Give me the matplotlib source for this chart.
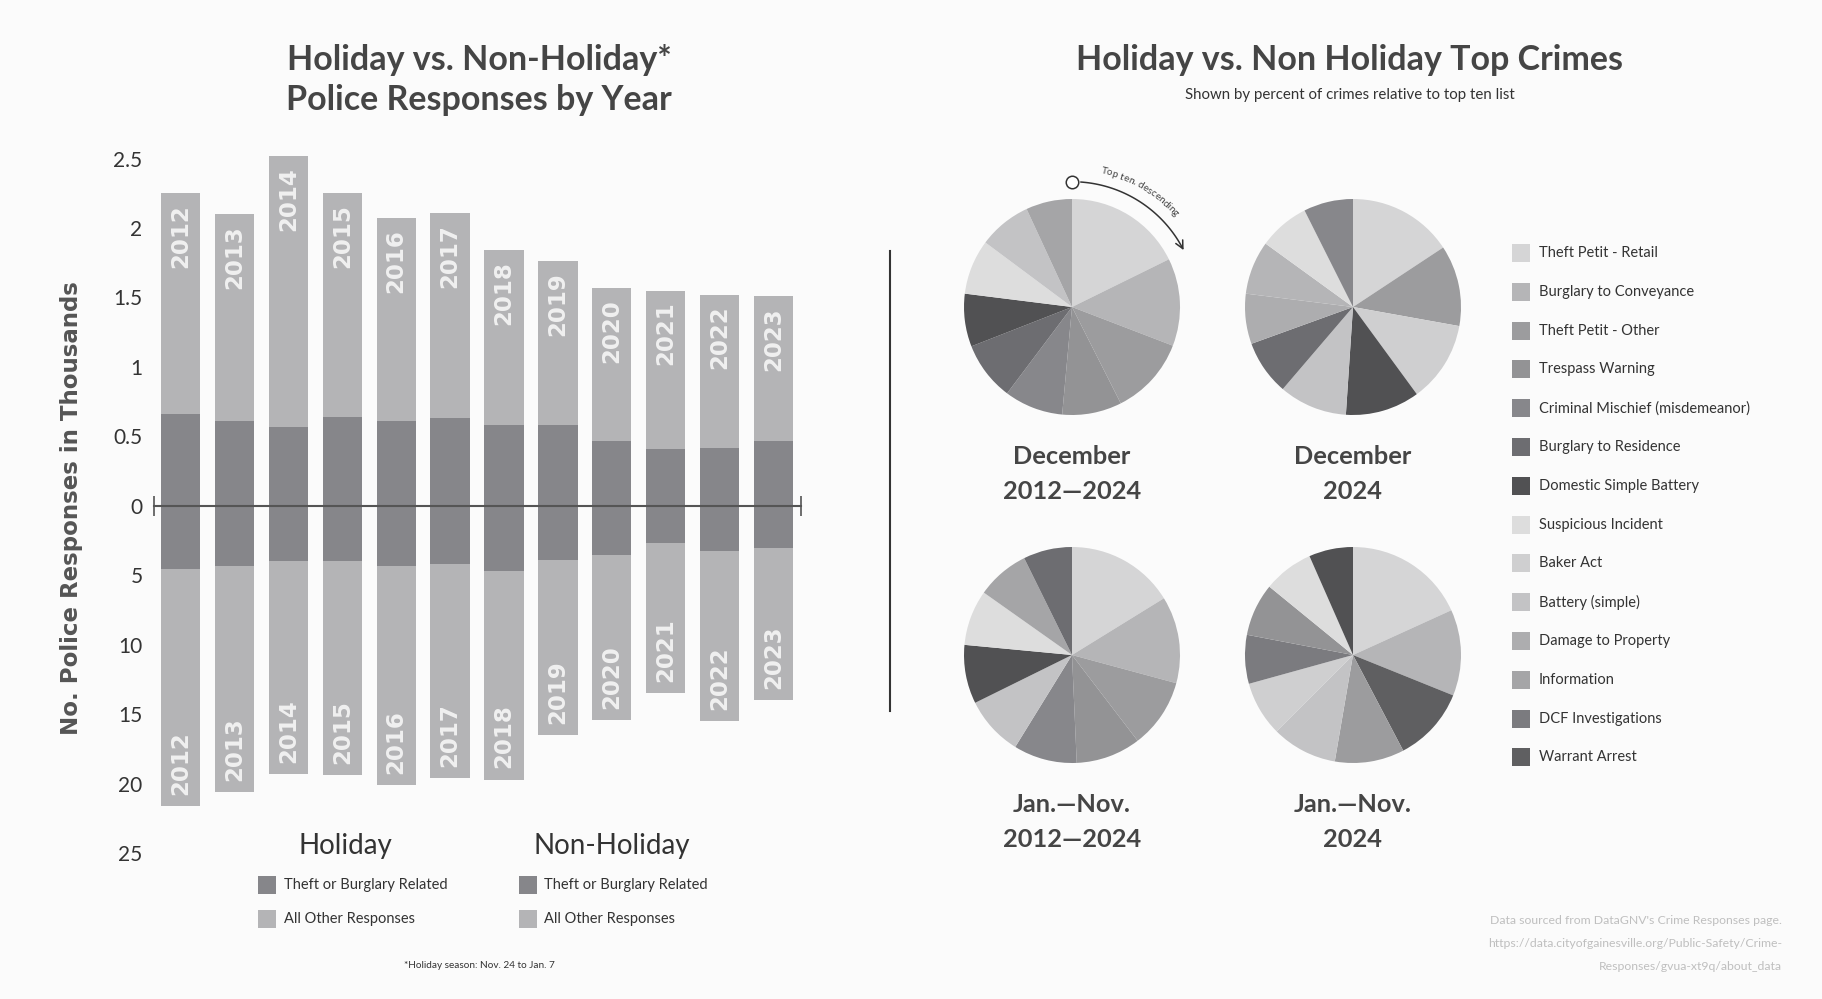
"""
Holiday vs. non-holiday police responses (Gainesville) - bar + pie panel
"""

import numpy as np
import matplotlib.pyplot as plt
from matplotlib.patches import FancyArrowPatch, Rectangle
from matplotlib.path import Path

W, H = 1822, 999
BG = '#fbfbfb'
FONT = ['Lato', 'DejaVu Sans']

# ---- bar chart data (thousands of responses) ----
years = [2012, 2013, 2014, 2015, 2016, 2017, 2018, 2019, 2020, 2021, 2022, 2023]
holiday_theft = [0.66, 0.61, 0.57, 0.64, 0.61, 0.63, 0.58, 0.58, 0.47, 0.41, 0.42, 0.47]
holiday_total = [2.25, 2.10, 2.52, 2.25, 2.07, 2.11, 1.84, 1.76, 1.57, 1.55, 1.52, 1.51]
nonholiday_theft = [4.55, 4.32, 3.96, 3.96, 4.36, 4.15, 4.68, 3.93, 3.53, 2.71, 3.24, 3.00]
nonholiday_total = [21.6, 20.6, 19.3, 19.4, 20.1, 19.6, 19.7, 16.5, 15.4, 13.5, 15.5, 14.0]

ytick_vals = [25, 20, 15, 10, 5, 0, -5, -10, -15, -20, -25]
ytick_labels = ['2.5', '2', '1.5', '1', '0.5', '0', '5', '10', '15', '20', '25']

# ---- pie chart data (percent of top ten list) ----
crimes = ['Theft Petit - Retail', 'Burglary to Conveyance', 'Theft Petit - Other',
          'Trespass Warning', 'Criminal Mischief (misdemeanor)', 'Burglary to Residence',
          'Domestic Simple Battery', 'Suspicious Incident', 'Baker Act', 'Battery (simple)',
          'Damage to Property', 'Information', 'DCF Investigations', 'Warrant Arrest']
crime_colors = ['#d5d5d6', '#b5b5b7', '#9c9c9e', '#939395', '#87878b', '#6d6d71',
                '#515153', '#dddddd', '#cfcfd0', '#c3c3c5', '#adadaf', '#a5a5a7',
                '#7b7b7f', '#5f5f61']

pie_titles = ['December\n2012\u20142024', 'December\n2024',
              'Jan.\u2014Nov.\n2012\u20142024', 'Jan.\u2014Nov.\n2024']

dec_all_crimes = ['Theft Petit - Retail', 'Burglary to Conveyance', 'Theft Petit - Other',
                  'Trespass Warning', 'Criminal Mischief (misdemeanor)', 'Burglary to Residence',
                  'Domestic Simple Battery', 'Suspicious Incident', 'Battery (simple)', 'Information']
dec_all_pct = [17.7, 13.1, 11.7, 8.9, 8.8, 8.8, 7.9, 8.2, 7.9, 6.9]

dec_2024_crimes = ['Theft Petit - Retail', 'Theft Petit - Other', 'Baker Act',
                   'Domestic Simple Battery', 'Battery (simple)', 'Burglary to Residence',
                   'Damage to Property', 'Burglary to Conveyance', 'Suspicious Incident',
                   'Criminal Mischief (misdemeanor)']
dec_2024_pct = [15.7, 12.1, 12.1, 11.1, 10.2, 8.2, 7.5, 8.0, 7.6, 7.4]

jn_all_crimes = ['Theft Petit - Retail', 'Burglary to Conveyance', 'Theft Petit - Other',
                 'Trespass Warning', 'Criminal Mischief (misdemeanor)', 'Battery (simple)',
                 'Domestic Simple Battery', 'Suspicious Incident', 'Information',
                 'Burglary to Residence']
jn_all_pct = [16.2, 13.0, 10.4, 9.7, 9.5, 8.9, 8.8, 8.3, 7.9, 7.3]

jn_2024_crimes = ['Theft Petit - Retail', 'Burglary to Conveyance', 'Warrant Arrest',
                  'Theft Petit - Other', 'Battery (simple)', 'Baker Act', 'DCF Investigations',
                  'Trespass Warning', 'Suspicious Incident', 'Domestic Simple Battery']
jn_2024_pct = [18.2, 12.9, 11.2, 10.4, 9.8, 8.2, 7.3, 7.9, 7.5, 6.6]

pie_crimes = [dec_all_crimes, dec_2024_crimes, jn_all_crimes, jn_2024_crimes]
pie_pct = [dec_all_pct, dec_2024_pct, jn_all_pct, jn_2024_pct]

DARK = '#86868a'
LIGHT = '#b4b4b6'
TITLE_C = '#454545'


def fx(px):
    return px / W


def fy(py):
    return 1 - py / H


def arc_text(ax, s, radius, start_deg, r_px, size):
    """write s clockwise along a circle around the pie centre"""
    renderer = ax.figure.canvas.get_renderer()
    ang = start_deg
    for ch in s:
        if ch == ' ':
            w = size * 0.28 * 100 / 72
        else:
            t = ax.text(0, 0, ch, fontsize=size, family=FONT)
            w = t.get_window_extent(renderer).width
            t.remove()
        dtheta = np.degrees(w / r_px)
        mid = np.radians(ang - dtheta / 2)
        ax.text(radius * np.cos(mid), radius * np.sin(mid), ch, fontsize=size,
                family=FONT, color='#444444', rotation=np.degrees(mid) - 90,
                rotation_mode='anchor', ha='center', va='center')
        ang -= dtheta


def main():
    plt.rcParams['font.family'] = FONT
    fig = plt.figure(figsize=(W / 100, H / 100), dpi=100, facecolor=BG)

    # ---------------- left: stacked bars ----------------
    ax = fig.add_axes([fx(153.6), fy(874), fx(800.5 - 153.6), (874 - 137.7) / H])
    ax.set_facecolor(BG)
    x = np.arange(len(years))
    h_theft = np.array(holiday_theft) * 10
    h_other = (np.array(holiday_total) - np.array(holiday_theft)) * 10
    n_theft = np.array(nonholiday_theft)
    n_other = np.array(nonholiday_total) - n_theft

    bw = 0.73
    ax.bar(x, h_theft, width=bw, color=DARK, linewidth=0)
    ax.bar(x, h_other, bottom=h_theft, width=bw, color=LIGHT, linewidth=0)
    ax.bar(x, -n_theft, width=bw, color=DARK, linewidth=0)
    ax.bar(x, -n_other, bottom=-n_theft, width=bw, color=LIGHT, linewidth=0)

    for i, yr in enumerate(years):
        ax.annotate(str(yr), (x[i], h_theft[i] + h_other[i]), xytext=(0, -8),
                    textcoords='offset points', rotation=90, ha='center', va='top',
                    fontsize=16.5, fontweight='bold', family='DejaVu Sans', color='#f0f0f0')
        ax.annotate(str(yr), (x[i], -(n_theft[i] + n_other[i])), xytext=(0, 8),
                    textcoords='offset points', rotation=90, ha='center', va='bottom',
                    fontsize=16.5, fontweight='bold', family='DejaVu Sans', color='#f0f0f0')

    ax.plot([-0.5, 11.5], [0, 0], color='#555555', lw=1.5, marker='|', markersize=14,
            markeredgewidth=1.2, clip_on=False, zorder=5)
    ax.set_xlim(-0.5, 11.5)
    ax.set_ylim(-26.5, 26.5)
    ax.set_xticks([])
    ax.set_yticks(ytick_vals)
    ax.set_yticklabels(ytick_labels, fontsize=15, color='#333333')
    ax.tick_params(axis='y', length=0, pad=8)
    for sp in ax.spines.values():
        sp.set_visible(False)

    fig.text(fx(72), fy(508), 'No. Police Responses in Thousands', rotation=90,
             ha='center', va='center', fontsize=16.5, fontweight='bold',
             family='DejaVu Sans', color='#555555')

    fig.text(fx(479), fy(60.5), 'Holiday vs. Non-Holiday*', ha='center', va='center',
             fontsize=24.5, fontweight='bold', color=TITLE_C)
    fig.text(fx(479), fy(99.5), 'Police Responses by Year', ha='center', va='center',
             fontsize=24.5, fontweight='bold', color=TITLE_C)

    # legend under the bars
    for lx, head, tx in [(267, 'Holiday', 345.6), (527.5, 'Non-Holiday', 612)]:
        fig.text(fx(tx), fy(846), head, ha='center', va='center', fontsize=20, color='#333333')
        for ly, lab, col in [(885, 'Theft or Burglary Related', DARK),
                             (919, 'All Other Responses', LIGHT)]:
            fig.patches.append(Rectangle((fx(lx - 9), fy(ly + 9)), 18 / W, 18 / H,
                                         transform=fig.transFigure, color=col, linewidth=0))
            fig.text(fx(lx + 17), fy(ly), lab, ha='left', va='center', fontsize=10.5,
                     color='#333333')

    fig.text(fx(479), fy(966), '*Holiday season: Nov. 24 to Jan. 7', ha='center',
             va='center', fontsize=7.2, color='#333333')

    fig.add_artist(plt.Line2D([fx(890), fx(890)], [fy(251), fy(711)], color='#333333',
                              lw=1.5, transform=fig.transFigure))

    # ---------------- right: pies ----------------
    fig.text(fx(1350), fy(60.5), 'Holiday vs. Non Holiday Top Crimes', ha='center',
             va='center', fontsize=24.5, fontweight='bold', color=TITLE_C)
    fig.text(fx(1350), fy(95), 'Shown by percent of crimes relative to top ten list',
             ha='center', va='center', fontsize=10.8, color='#333333')

    color_of = dict(zip(crimes, crime_colors))
    centers = [(1072, 307), (1353, 307), (1072, 655), (1353, 655)]
    r_px = 108
    half = 150
    lim = half / r_px
    for k, (cx, cy) in enumerate(centers):
        pax = fig.add_axes([fx(cx - half), fy(cy + half), 2 * half / W, 2 * half / H])
        pax.pie(pie_pct[k], colors=[color_of[c] for c in pie_crimes[k]], startangle=90,
                counterclock=False, radius=1, wedgeprops=dict(linewidth=0))
        pax.set_xlim(-lim, lim)
        pax.set_ylim(-lim, lim)
        pax.axis('off')

        line1, line2 = pie_titles[k].split('\n')
        fig.text(fx(cx), fy(cy + 150), line1, ha='center', va='center', fontsize=18.3,
                 fontweight='bold', color=TITLE_C)
        fig.text(fx(cx), fy(cy + 184.5), line2, ha='center', va='center', fontsize=18.3,
                 fontweight='bold', color=TITLE_C)

        if k == 0:
            ra = 1.16
            th = np.radians(np.linspace(86, 27, 60))
            arc = Path(np.column_stack([ra * np.cos(th), ra * np.sin(th)]))
            pax.add_patch(FancyArrowPatch(path=arc, arrowstyle='->', mutation_scale=14,
                                          color='#333333', lw=1.1, clip_on=False))
            pax.plot([0], [ra], marker='o', markersize=9, markerfacecolor='white',
                     markeredgecolor='#333333', markeredgewidth=1.1, clip_on=False)
            arc_text(pax, 'Top ten, descending', 1.29, 78, 1.29 * r_px, 7.2)

    # crime legend
    for i, (name, col) in enumerate(zip(crimes, crime_colors)):
        yy = 253 + 38.8 * i
        fig.patches.append(Rectangle((fx(1512), fy(yy + 9)), 18 / W, 18 / H,
                                     transform=fig.transFigure, color=col, linewidth=0))
        fig.text(fx(1539), fy(yy), name, ha='left', va='center', fontsize=10.5,
                 color='#333333')

    src = ["Data sourced from DataGNV's Crime Responses page.",
           'https://data.cityofgainesville.org/Public-Safety/Crime-',
           'Responses/gvua-xt9q/about_data']
    for j, line in enumerate(src):
        fig.text(fx(1782), fy(920 + 23.5 * j), line, ha='right', va='center',
                 fontsize=8.8, color='#bfbfbf')

    fig.savefig('out.png', dpi=100, facecolor=BG)


if __name__ == '__main__':
    main()
